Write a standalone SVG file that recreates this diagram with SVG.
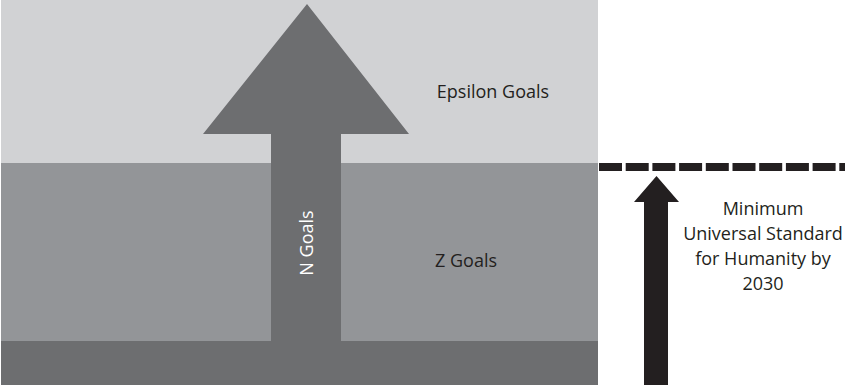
<svg xmlns="http://www.w3.org/2000/svg" width="845" height="385" viewBox="0 0 845 385">
<style>
.t{font-family:"Open Sans","Liberation Sans",Arial,sans-serif;font-size:18px;fill:#231f20;text-anchor:middle}
.w{fill:#ffffff}
</style>
<rect width="845" height="385" fill="#ffffff"/>
<g id="epsilon">
<rect x="1" y="0" width="597" height="163" fill="#d1d2d4"/>
<text class="t" x="493" y="98">Epsilon Goals</text>
</g>
<g id="z">
<rect x="1" y="163" width="597" height="178" fill="#939598"/>
<text class="t" x="466" y="267">Z Goals</text>
</g>
<g id="base">
<rect x="1" y="341" width="597" height="44" fill="#6d6e70"/>
</g>
<g id="n">
<polygon points="307,4 409,134 341,134 341,341 271,341 271,134 203,134" fill="#6d6e70"/>
<text class="t w" transform="translate(313,243) rotate(-90)">N Goals</text>
</g>
<g id="standard">
<text class="t" x="763" y="215">Minimum</text>
<text class="t" x="763" y="240">Universal Standard</text>
<text class="t" x="763" y="265">for Humanity by</text>
<text class="t" x="763" y="290">2030</text>
</g>
<g id="connectors">
<line x1="599" y1="167" x2="845" y2="167" stroke="#231f20" stroke-width="8" stroke-dasharray="23 3.7"/>
<polygon points="656.5,176 679,202 668,202 668,385 644,385 644,202 634,202" fill="#231f20"/>
</g>
</svg>
